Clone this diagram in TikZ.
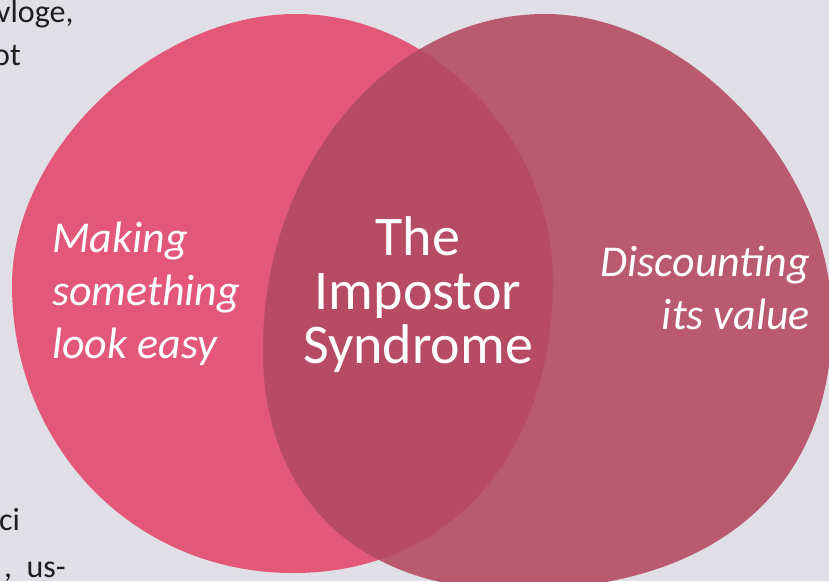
\documentclass[tikz,border=0pt]{standalone}
\usepackage{fontspec}
\setmainfont{Carlito}
\usepackage{tikz}
\usetikzlibrary{positioning}
\definecolor{slidegray}{RGB}{224, 223, 230}
\definecolor{makepink}{RGB}{227, 88, 120}
\definecolor{valuemauve}{RGB}{185, 90, 112}
\definecolor{impostred}{RGB}{183, 75, 99}
\definecolor{slideink}{RGB}{30, 30, 30}

% the two blobs, in pixel coordinates of the slide
\newcommand{\leftblob}{(296,14) .. controls (432,14) and (553,139) .. (553,280)
  .. controls (553,456) and (449,573) .. (293,573)
  .. controls (134,573) and (12,447) .. (12,285)
  .. controls (12,150) and (154,14) .. (296,14) -- cycle}
\newcommand{\rightblob}{(545,14) .. controls (688,14) and (832,167) .. (832,320)
  .. controls (832,489) and (715,590) .. (515,590)
  .. controls (359,590) and (263,498) .. (263,350)
  .. controls (263,165) and (390,14) .. (545,14) -- cycle}

\begin{document}
\begin{tikzpicture}[x=1pt, y=-1pt,
  sidetext/.style={text=white, font=\itshape\fontsize{44}{53}\selectfont, inner sep=0pt},
  midtext/.style={text=white, font=\fontsize{56}{54}\selectfont, inner sep=0pt, align=center},
  slidetext/.style={text=slideink, font=\fontsize{32}{45}\selectfont, inner sep=0pt, anchor=base west}]
  \useasboundingbox (0,0) rectangle (829,581);
  \clip (0,0) rectangle (829,581);
  \fill[slidegray] (0,0) rectangle (829,581);

  % Slide text behind the diagram
  \node[slidetext] (vloge) at (-4,22) {vloge,};
  \node[slidetext] (ot) at (-7,65) {ot};
  \node[slidetext] (ci) at (-1,530) {ci};
  \node[slidetext] (us) at (4,577) {,\ \ us-};

  % Blobs and their overlap
  \fill[makepink] \leftblob;
  \fill[valuemauve] \rightblob;
  \begin{scope}
    \clip \leftblob;
    \fill[impostred] \rightblob;
  \end{scope}

  % Labels
  \node[sidetext, align=left, anchor=west] (easy) at (52,294) {Making\\something\\look easy};
  \node[midtext] (impostor) at (418,295) {The\\Impostor\\Syndrome};
  \node[sidetext, align=right, anchor=east] (value) at (810,288) {Discounting\\its value};
\end{tikzpicture}
\end{document}
